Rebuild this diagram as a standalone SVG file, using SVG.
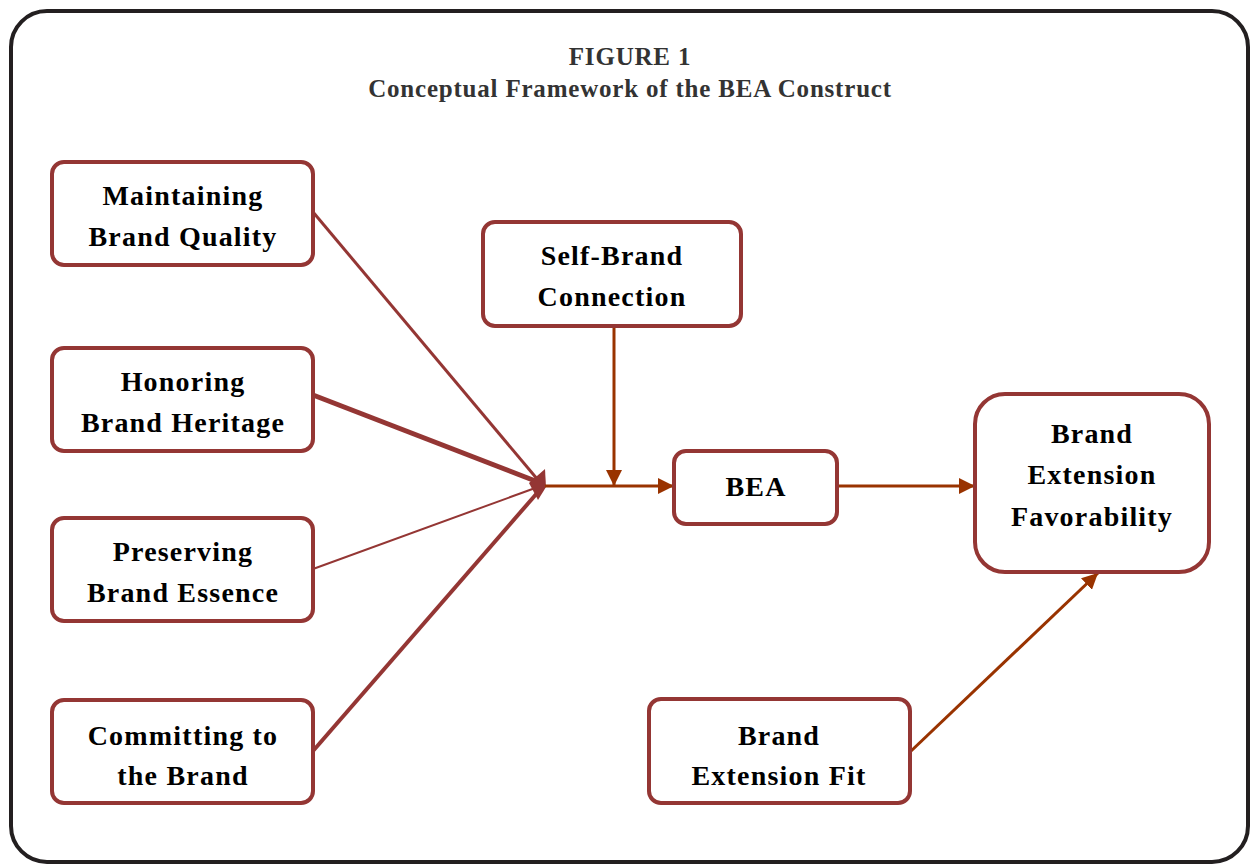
<svg xmlns="http://www.w3.org/2000/svg" width="1250" height="865" viewBox="0 0 1250 865">
  <style>
    .box { fill: #ffffff; stroke: #943634; stroke-width: 4; }
    .lbl { font-family: "Liberation Serif", "Times New Roman", serif; font-weight: bold; font-size: 28px; letter-spacing: 1.2px; fill: #000000; text-anchor: middle; }
    .ttl { font-family: "Liberation Serif", "Times New Roman", serif; font-weight: bold; font-size: 25px; letter-spacing: 0.8px; fill: #333333; text-anchor: middle; }
    .in { stroke: #943634; fill: none; }
    .out { stroke: #993300; stroke-width: 3; fill: none; }
  </style>
  <defs>
    <marker id="arr" viewBox="0 0 10 10" refX="10" refY="5" markerWidth="16" markerHeight="16" markerUnits="userSpaceOnUse" orient="auto">
      <path d="M0,0 L10,5 L0,10 Z" fill="#993300"/>
    </marker>
  </defs>

  <rect width="1250" height="865" fill="#ffffff"/>
  <!-- outer frame -->
  <rect x="11" y="11" width="1237" height="851" rx="36" ry="36" fill="none" stroke="#231f20" stroke-width="4"/>

  <!-- title -->
  <g id="title">
    <text class="ttl" x="630" y="65">FIGURE 1</text>
    <text class="ttl" x="630" y="97">Conceptual Framework of the BEA Construct</text>
  </g>

  <!-- connectors -->
  <g id="connectors">
    <line class="in" x1="313" y1="212" x2="538" y2="480" stroke-width="3"/>
    <line class="in" x1="313" y1="395" x2="538" y2="482" stroke-width="5"/>
    <line class="in" x1="313" y1="569" x2="538" y2="487" stroke-width="2"/>
    <line class="in" x1="313" y1="751" x2="538" y2="492" stroke-width="4"/>
    <polygon points="529,483 545,469 546,487 538,500" fill="#943634"/>
    <line class="out" x1="545" y1="486" x2="674" y2="486" marker-end="url(#arr)"/>
    <line class="out" x1="614" y1="326" x2="614" y2="486" marker-end="url(#arr)"/>
    <line class="out" x1="837" y1="486" x2="975" y2="486" marker-end="url(#arr)"/>
    <line class="out" x1="910" y1="752" x2="1098" y2="573" stroke-width="4" marker-end="url(#arr)"/>
  </g>

  <g id="node-maintaining">
    <rect class="box" x="52" y="162" width="261" height="103" rx="12"/>
    <text class="lbl" x="183" y="205">Maintaining</text>
    <text class="lbl" x="183" y="246">Brand Quality</text>
  </g>
  <g id="node-honoring">
    <rect class="box" x="52" y="348" width="261" height="103" rx="12"/>
    <text class="lbl" x="183" y="391">Honoring</text>
    <text class="lbl" x="183" y="432">Brand Heritage</text>
  </g>
  <g id="node-preserving">
    <rect class="box" x="52" y="518" width="261" height="103" rx="12"/>
    <text class="lbl" x="183" y="561">Preserving</text>
    <text class="lbl" x="183" y="602">Brand Essence</text>
  </g>
  <g id="node-committing">
    <rect class="box" x="52" y="700" width="261" height="103" rx="12"/>
    <text class="lbl" x="183" y="745">Committing to</text>
    <text class="lbl" x="183" y="785">the Brand</text>
  </g>
  <g id="node-self-brand">
    <rect class="box" x="483" y="222" width="258" height="104" rx="12"/>
    <text class="lbl" x="612" y="265">Self-Brand</text>
    <text class="lbl" x="612" y="306">Connection</text>
  </g>
  <g id="node-bea">
    <rect class="box" x="674" y="451" width="163" height="73" rx="12"/>
    <text class="lbl" x="756" y="496">BEA</text>
  </g>
  <g id="node-favorability">
    <rect class="box" x="975" y="394" width="234" height="178" rx="30"/>
    <text class="lbl" x="1092" y="443">Brand</text>
    <text class="lbl" x="1092" y="484">Extension</text>
    <text class="lbl" x="1092" y="526">Favorability</text>
  </g>
  <g id="node-fit">
    <rect class="box" x="649" y="699" width="261" height="104" rx="12"/>
    <text class="lbl" x="779" y="745">Brand</text>
    <text class="lbl" x="779" y="785">Extension Fit</text>
  </g>
</svg>
